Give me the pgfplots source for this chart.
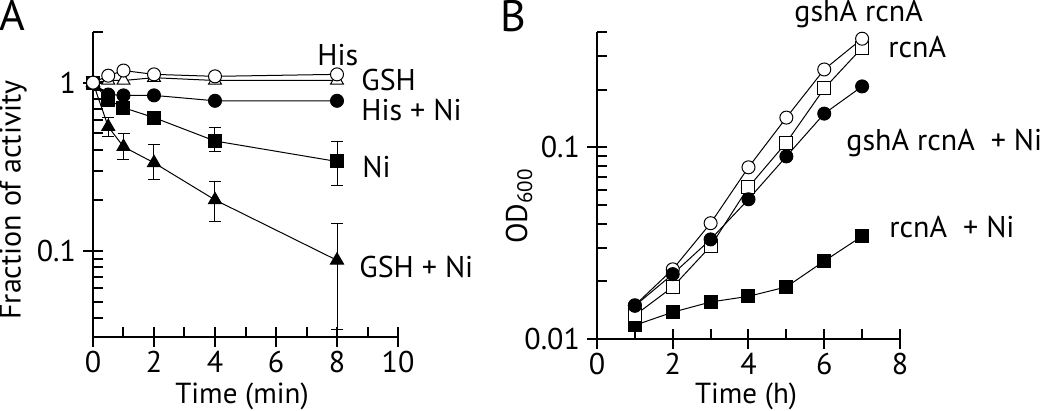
\documentclass[border=0pt]{standalone}
\usepackage{fontspec}
\setmainfont{PT Sans}
\usepackage{pgfplots}
\pgfplotsset{compat=1.18}
\def\PP#1#2{({#1*0.5pt},{(411-#2)*0.5pt})}
\newcommand\lf{\fontsize{15}{18}\selectfont}
\pgfplotsset{
  every axis plot/.append style={black, line width=0.5pt, mark size=3.25pt},
}
\pgfplotsset{eb/.style={error bars/.cd, y dir=both, y explicit,
  error bar style={line width=0.5pt, black},
  error mark options={rotate=90, mark size=3pt, line width=0.5pt, black}}}
\begin{document}
\begin{tikzpicture}
\useasboundingbox (0,0) rectangle (525pt,205.5pt);
% Panel A
\begin{axis}[scale only axis, axis x line=bottom, axis y line=left,
  axis line style={line width=1.25pt,-},
  tick style={line width=1pt, black},
  tick align=center, major tick length=10pt, minor tick length=5pt,
  minor x tick style={yshift=2.5pt}, minor y tick style={xshift=2.5pt},
  ymode=log,
  tick label style={font=\lf}, xticklabel style={inner sep=1pt, yshift=-1pt},
  /pgf/number format/assume math mode=true,
  clip=false, anchor=south west,
  at={(46.5pt,37pt)}, width=152.5pt, height=152.5pt,
  xmin=0, xmax=10, ymin=0.0308, ymax=2.0,
  xtick={0,2,4,6,8,10}, minor xtick={1,3,5,7,9},
  ytick={0.1,1}, yticklabels={0.1,1},
  minor ytick={0.04,0.05,0.06,0.07,0.08,0.09,0.2,0.3,0.4,0.5,0.6,0.7,0.8,0.9,2}]
% GSH + Ni
\addplot[mark=triangle*, mark size=3.75pt, eb] coordinates {
 (0,1) (0.5,0.547) += (0,0.07) -= (0,0.07)
 (1,0.416) += (0,0.085) -= (0,0.068)
 (2,0.334) += (0,0.096) -= (0,0.069)
 (4,0.201) += (0,0.056) -= (0,0.052)
 (8,0.088) += (0,0.057) -= (0,0.054)};
% Ni
\addplot[mark=square*, eb] coordinates {
 (0,1) (0.5,0.79) (1,0.71) (2,0.62)
 (4,0.45) += (0,0.09) -= (0,0.06)
 (8,0.34) += (0,0.105) -= (0,0.096)};
% His + Ni
\addplot[mark=*] coordinates {
 (0,1) (0.5,0.85) (1,0.84) (2,0.84) (4,0.78) (8,0.78)};
% GSH
\addplot[mark=triangle*, mark size=3.75pt, mark options={fill=white}] coordinates {
 (0,1) (0.5,1.03) (1,1.03) (2,1.07) (4,1.03) (8,1.03)};
% His
\addplot[mark=*, mark options={fill=white}, eb] coordinates {
 (0,1) (0.5,1.10) += (0,0.05) -= (0,0.05) (1,1.18) (2,1.12) (4,1.09) (8,1.12)};
\end{axis}
% Panel B
\begin{axis}[scale only axis, axis x line=bottom, axis y line=left,
  axis line style={line width=1.25pt,-},
  tick style={line width=1pt, black},
  tick align=center, major tick length=10pt, minor tick length=5pt,
  minor x tick style={yshift=2.5pt}, minor y tick style={xshift=2.5pt},
  ymode=log,
  tick label style={font=\lf}, xticklabel style={inner sep=1pt, yshift=-1pt},
  /pgf/number format/assume math mode=true,
  clip=false, anchor=south west,
  at={(298.5pt,36pt)}, width=151.5pt, height=153.5pt,
  xmin=0, xmax=8, ymin=0.01, ymax=0.4,
  xtick={0,2,4,6,8}, minor xtick={1,3,5,7},
  ytick={0.01,0.1}, yticklabels={0.01,0.1},
  minor ytick={0.02,0.03,0.04,0.05,0.06,0.07,0.08,0.09,0.2,0.3,0.4}]
% rcnA + Ni
\addplot[mark=square*] coordinates {
 (1,0.0118) (2,0.0138) (3,0.0156) (4,0.0167) (5,0.0187) (6,0.0255) (7,0.0344)};
% rcnA
\addplot[mark=square*, mark options={fill=white}] coordinates {
 (1,0.0133) (2,0.0187) (3,0.0305) (4,0.062) (5,0.106) (6,0.203) (7,0.331)};
% gshA rcnA
\addplot[mark=*, mark options={fill=white}] coordinates {
 (1,0.0150) (2,0.0231) (3,0.0402) (4,0.0787) (5,0.143) (6,0.255) (7,0.369)};
% gshA rcnA + Ni
\addplot[mark=*] coordinates {
 (1,0.0149) (2,0.0218) (3,0.0331) (4,0.0536) (5,0.0897) (6,0.150) (7,0.208)};
\end{axis}
% texts
\node[font=\fontsize{22}{24}\selectfont] at \PP{12}{15} {A};
\node[font=\fontsize{22}{24}\selectfont] at \PP{513}{16} {B};
\node[font=\lf, rotate=90] at \PP{13}{200} {Fraction of activity};
\node[font=\lf, rotate=90] at \PP{519}{206} {OD\textsubscript{600}};
\node[font=\fontsize{14.5}{17}\selectfont, inner sep=0pt, anchor=base] at \PP{242}{404} {Time (min)};
\node[font=\fontsize{14.5}{17}\selectfont, inner sep=0pt, anchor=base] at \PP{746}{404} {Time (h)};
\node[font=\lf, anchor=west, inner sep=0pt] at \PP{317}{55} {His};
\node[font=\lf, anchor=west, inner sep=0pt] at \PP{361}{80} {GSH};
\node[font=\lf, anchor=west, inner sep=0pt] at \PP{361}{110} {His + Ni};
\node[font=\lf, anchor=west, inner sep=0pt] at \PP{362}{167} {Ni};
\node[font=\lf, anchor=west, inner sep=0pt] at \PP{359}{267} {GSH + Ni};
\node[font=\lf, anchor=west, inner sep=0pt] at \PP{794}{14} {gshA rcnA};
\node[font=\lf, anchor=west, inner sep=0pt] at \PP{888}{47} {rcnA};
\node[font=\lf, anchor=west, inner sep=0pt] at \PP{846}{143} {gshA rcnA\ \ + Ni};
\node[font=\lf, anchor=west, inner sep=0pt] at \PP{889}{227} {rcnA\ \ + Ni};
\end{tikzpicture}
\end{document}
